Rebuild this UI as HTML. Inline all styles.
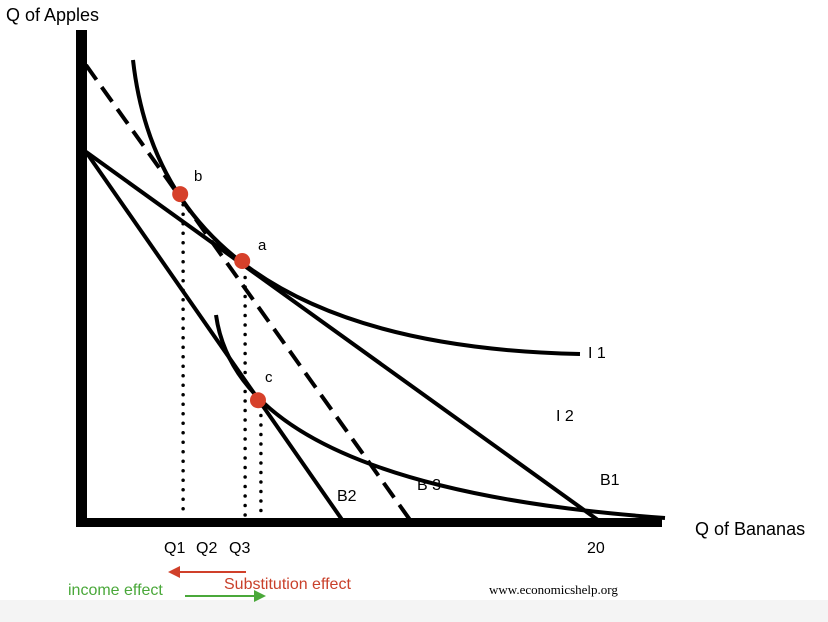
<!DOCTYPE html>
<html><head><meta charset="utf-8"><style>
html,body{margin:0;padding:0;background:#fff}
svg{display:block}
text{font-family:"Liberation Sans",sans-serif}
</style></head><body>
<svg id="chart" width="828" height="622" viewBox="0 0 828 622" xmlns="http://www.w3.org/2000/svg">
<rect x="0" y="600" width="828" height="22" fill="#f4f4f4"/>
<text x="6" y="21" font-size="18" fill="#000">Q of Apples</text>
<text x="695" y="535" font-size="18" fill="#000">Q of Bananas</text>
<rect x="76" y="30" width="11" height="497" fill="#000"/>
<rect x="76" y="518" width="586" height="9" fill="#000"/>
<g id="marks"></g>
<text x="164" y="553" font-size="16">Q1</text>
<text x="196" y="553" font-size="16">Q2</text>
<text x="229" y="553" font-size="16">Q3</text>
<text x="587" y="553" font-size="16">20</text>
<text x="194" y="181" font-size="15">b</text>
<text x="258" y="250" font-size="15">a</text>
<text x="265" y="382" font-size="15">c</text>
<text x="588" y="358" font-size="16">I 1</text>
<text x="556" y="421" font-size="16">I 2</text>
<text x="600" y="485" font-size="16">B1</text>
<text x="337" y="501" font-size="16">B2</text>
<text x="417" y="490" font-size="16">B 3</text>
<line x1="246" y1="572" x2="178" y2="572" stroke="#d0402a" stroke-width="2"/>
<polygon points="168,572 180,566 180,578" fill="#d0402a"/>
<text x="224" y="589" font-size="16" fill="#c9402a">Substitution effect</text>
<text x="68" y="595" font-size="16" fill="#4aa83a">income effect</text>
<line x1="185" y1="596" x2="256" y2="596" stroke="#4aa83a" stroke-width="2"/>
<polygon points="266,596 254,590 254,602" fill="#4aa83a"/>
<text x="489" y="594" font-size="13" style="font-family:'Liberation Serif',serif">www.economicshelp.org</text>
</svg>
<script>
// Data (bananas on x, apples on y, scaled 0..100)
const budgetNames = ["B1", "B2", "B3"];
const budgetXIntercepts = [87.5, 43.8, 55.4];
const budgetYIntercepts = [75.9, 75.9, 93.8];
const budgetDashed = [false, false, true];
const pointNames = ["b", "a", "c"];
const pointX = [16.1, 26.7, 29.4];
const pointY = [67.2, 53.4, 24.7];
const dropX = [16.6, 27.2, 29.9];
const dropTopY = [65, 50, 23.5];

const g = document.getElementById('marks');
const NS = 'http://www.w3.org/2000/svg';
function sx(v){ return 86 + v * 5.85; }
function sy(v){ return 520 - v * 4.85; }

function mk(tag, attrs){
  const e = document.createElementNS(NS, tag);
  for (const k in attrs) e.setAttribute(k, attrs[k]);
  g.appendChild(e);
  return e;
}
for (let i = 0; i < dropX.length; i++) {
  const l = mk('line', {x1: sx(dropX[i]), y1: sy(dropTopY[i]), x2: sx(dropX[i]), y2: 517, stroke: '#000', 'stroke-width': 3.5, 'stroke-dasharray': '0 9.5', 'stroke-linecap': 'round'});
  
  
}
const i1 = mk('path', {d: 'M133,60 Q165,345 580,354', fill: 'none', stroke: '#000', 'stroke-width': 4});


const i2 = mk('path', {d: 'M216,315 Q240,487 665,518', fill: 'none', stroke: '#000', 'stroke-width': 4});


for (let i = 0; i < budgetNames.length; i++) {
  const attrs = {x1: sx(0), y1: sy(budgetYIntercepts[i]), x2: sx(budgetXIntercepts[i]), y2: sy(0), stroke: '#000', 'stroke-width': 4};
  if (budgetDashed[i]) attrs['stroke-dasharray'] = '18 9';
  const l = mk('line', attrs);
  
  
}
for (let i = 0; i < pointNames.length; i++) {
  const c = mk('circle', {cx: sx(pointX[i]), cy: sy(pointY[i]), r: 8, fill: '#d6402a'});
  
  
}
</script>
</body></html>
